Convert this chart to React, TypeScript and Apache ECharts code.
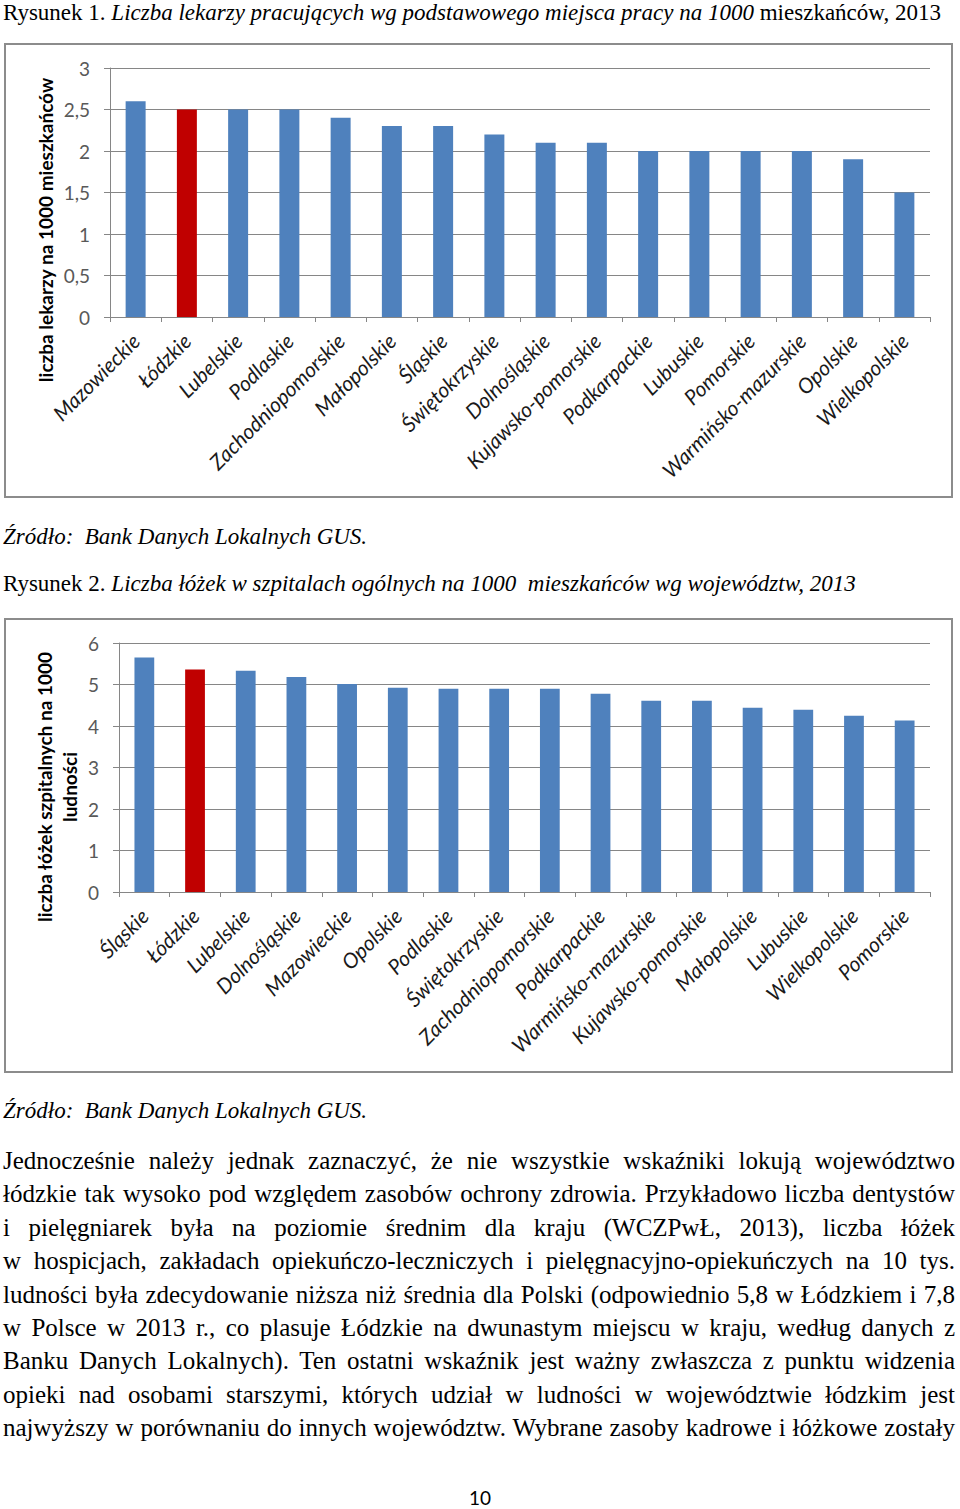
import React, { useEffect, useRef } from "react";
import * as echarts from "echarts";

const regions1 = ["Mazowieckie", "Łódzkie", "Lubelskie", "Podlaskie", "Zachodniopomorskie", "Małopolskie", "Śląskie", "Świętokrzyskie", "Dolnośląskie", "Kujawsko-pomorskie", "Podkarpackie", "Lubuskie", "Pomorskie", "Warmińsko-mazurskie", "Opolskie", "Wielkopolskie"];
const doctors = [2.6, 2.5, 2.5, 2.5, 2.4, 2.3, 2.3, 2.2, 2.1, 2.1, 2.0, 2.0, 2.0, 2.0, 1.9, 1.5];

const regions2 = ["Śląskie", "Łódzkie", "Lubelskie", "Dolnośląskie", "Mazowieckie", "Opolskie", "Podlaskie", "Świętokrzyskie", "Zachodniopomorskie", "Podkarpackie", "Warmińsko-mazurskie", "Kujawsko-pomorskie", "Małopolskie", "Lubuskie", "Wielkopolskie", "Pomorskie"];
const beds = [5.65, 5.36, 5.33, 5.18, 5.01, 4.92, 4.9, 4.9, 4.9, 4.78, 4.61, 4.61, 4.44, 4.39, 4.25, 4.13];

const highlighted = "Łódzkie";
const axisName1 = "liczba lekarzy na 1000 mieszkańców";
const axisName2 = "liczba łóżek szpitalnych na 1000\nludności";

const paragraphLines = [
  "Jednocześnie należy jednak zaznaczyć, że nie wszystkie wskaźniki lokują województwo",
  "łódzkie tak wysoko pod względem zasobów ochrony zdrowia. Przykładowo liczba dentystów",
  "i pielęgniarek była na poziomie średnim dla kraju (WCZPwŁ, 2013), liczba łóżek",
  "w hospicjach, zakładach opiekuńczo-leczniczych i pielęgnacyjno-opiekuńczych na 10 tys.",
  "ludności była zdecydowanie niższa niż średnia dla Polski (odpowiednio 5,8 w Łódzkiem i 7,8",
  "w Polsce w 2013 r., co plasuje Łódzkie na dwunastym miejscu w kraju, według danych z",
  "Banku Danych Lokalnych). Ten ostatni wskaźnik jest ważny zwłaszcza z punktu widzenia",
  "opieki nad osobami starszymi, których udział w ludności w województwie łódzkim jest",
  "najwyższy w porównaniu do innych województw. Wybrane zasoby kadrowe i łóżkowe zostały",
];

const BLUE = "#4f81bd";
const RED = "#c00000";
const GRID = "#868686";

function makeOption(cats: string[], vals: number[], max: number, interval: number, gridLeft: number, name: string, nameX: number, nameY: number) {
  return {
    animation: false,
    grid: { left: gridLeft, right: 22, top: 24, bottom: 180, containLabel: false },
    xAxis: {
      type: "category",
      data: cats,
      axisLine: { lineStyle: { color: GRID, width: 1 } },
      axisTick: { show: true, length: 5, lineStyle: { color: GRID } },
      axisLabel: {
        interval: 0,
        rotate: 45,
        margin: 20,
        fontStyle: "italic",
        fontFamily: "Lato",
        fontSize: 21,
        color: "#1a1a1a",
      },
    },
    yAxis: {
      type: "value",
      min: 0,
      max,
      interval,
      axisLine: { show: true, lineStyle: { color: GRID } },
      axisTick: { show: true, length: 6, lineStyle: { color: GRID } },
      splitLine: { lineStyle: { color: GRID, width: 1 } },
      axisLabel: {
        margin: 20,
        fontFamily: "Lato",
        fontSize: 19,
        color: "#595959",
        formatter: (v: number) => String(v).replace(".", ","),
      },
    },
    graphic: [
      {
        type: "text",
        x: nameX,
        y: nameY,
        rotation: Math.PI / 2,
        style: {
          text: name,
          font: "bold 19px Lato",
          fill: "#000",
          align: "center",
          verticalAlign: "middle",
          textAlign: "center",
          textVerticalAlign: "middle",
          lineHeight: 25,
        },
      },
    ],
    series: [
      {
        type: "bar",
        barWidth: "39%",
        data: vals.map((v, i) => ({
          value: v,
          itemStyle: { color: cats[i] === highlighted ? RED : BLUE },
        })),
      },
    ],
  };
}

function Chart({ option, style }: { option: any; style: React.CSSProperties }) {
  const ref = useRef<HTMLDivElement>(null);
  useEffect(() => {
    if (!ref.current) return;
    const chart = echarts.init(ref.current, undefined, { renderer: "svg" });
    chart.setOption(option);
    return () => chart.dispose();
  }, []);
  return <div ref={ref} style={{ position: "absolute", ...style }} />;
}

const serif = "'Liberation Serif', 'Times New Roman', serif";

function Line({ cy, children, left = 3, width, justify = false, fs = 23 }: any) {
  const lh = 26;
  return (
    <div
      style={{
        position: "absolute",
        left,
        top: Math.max(0, cy - lh / 2),
        width: width ?? 952,
        height: lh,
        lineHeight: lh + "px",
        fontFamily: serif,
        fontSize: fs,
        color: "#000",
        whiteSpace: justify ? "normal" : "nowrap",
        textAlign: justify ? "justify" : "left",
        textAlignLast: justify ? "justify" : "auto",
      } as React.CSSProperties}
    >
      {children}
    </div>
  );
}

export default function App() {
  const box: React.CSSProperties = {
    position: "absolute",
    border: "2px solid #8c8c8c",
    boxSizing: "border-box",
  };
  return (
    <div style={{ position: "absolute", left: 0, top: 0, width: 960, height: 1509, background: "#fff", overflow: "hidden" }}>
      <Line cy={12}>
        Rysunek 1. <i>Liczba lekarzy pracujących wg podstawowego miejsca pracy na 1000</i> mieszkańców, 2013
      </Line>
      <div style={{ ...box, left: 4, top: 43, width: 949, height: 455 }} />
      <Chart
        option={makeOption(regions1, doctors, 3, 0.5, 105, axisName1, 40, 186)}
        style={{ left: 5, top: 44, width: 947, height: 453 }}
      />
      <Line cy={537}>
        <i>Źródło:&nbsp; Bank Danych Lokalnych GUS.</i>
      </Line>
      <Line cy={584}>
        Rysunek 2. <i>Liczba łóżek w szpitalach ogólnych na 1000&nbsp; mieszkańców wg województw, 2013</i>
      </Line>
      <div style={{ ...box, left: 4, top: 618, width: 949, height: 455 }} />
      <Chart
        option={makeOption(regions2, beds, 6, 1, 114, axisName2, 52, 168)}
        style={{ left: 5, top: 619, width: 947, height: 453 }}
      />
      <Line cy={1111}>
        <i>Źródło:&nbsp; Bank Danych Lokalnych GUS.</i>
      </Line>
      {paragraphLines.map((t, i) => (
        <Line key={i} cy={1161 + i * 33.4} justify fs={25}>
          {t}
        </Line>
      ))}
      <div
        style={{
          position: "absolute",
          left: 430,
          width: 100,
          top: 1486,
          textAlign: "center",
          fontFamily: "Lato",
          fontSize: 19,
          lineHeight: "24px",
          color: "#000",
        }}
      >
        10
      </div>
    </div>
  );
}
